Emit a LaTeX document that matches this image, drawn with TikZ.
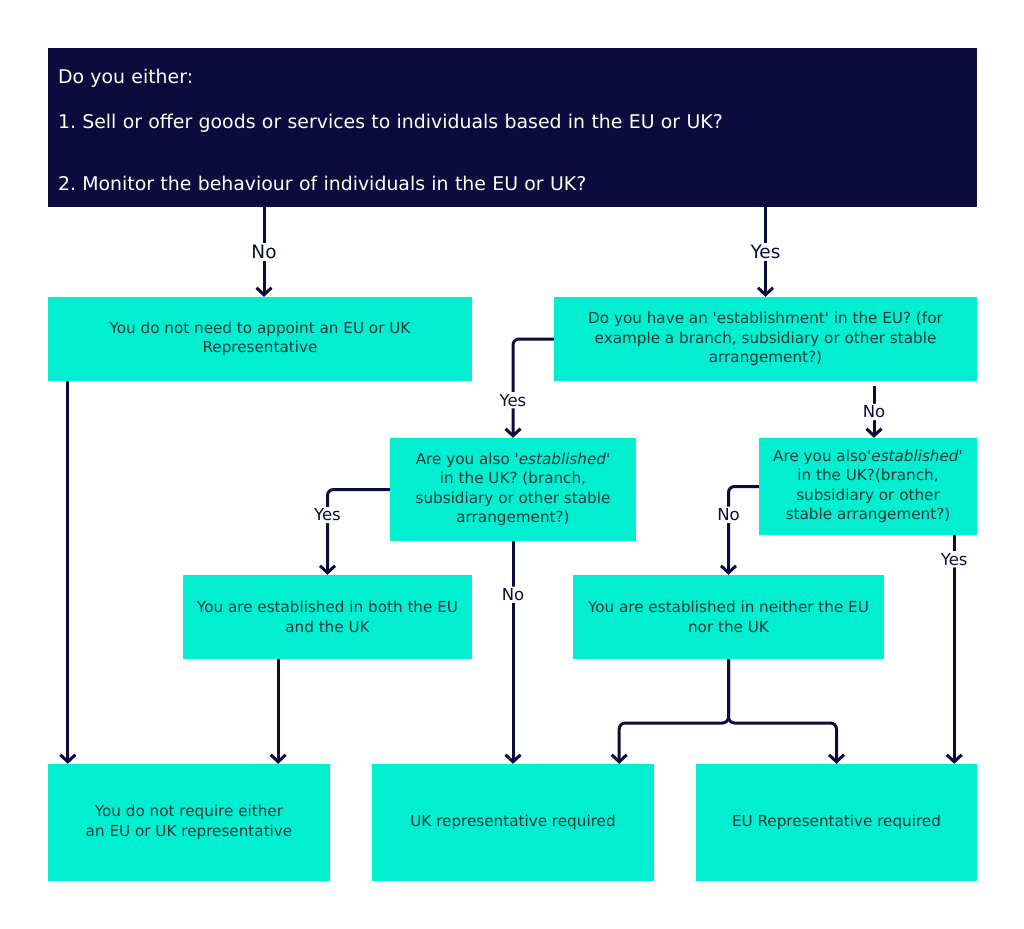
\documentclass[tikz,border=0pt]{standalone}
\usepackage{fontspec}
\setmainfont{DejaVu Sans}
\usetikzlibrary{arrows.meta}
\definecolor{navy}{HTML}{0B0C3D}
\definecolor{aqua}{HTML}{00EFD1}
\definecolor{boxtext}{HTML}{173A3E}
\newcommand{\sq}{\textquotesingle}
\frenchspacing
\begin{document}
\begin{tikzpicture}[x=1pt,y=-1pt,
  topbox/.style={fill=navy, text=white, align=left, text width=909pt, inner sep=0pt,
    font=\fontsize{18.9}{21}\selectfont},
  box/.style={fill=aqua, text=boxtext, align=center, inner sep=0pt,
    font=\fontsize{15.2}{19.5}\selectfont},
  conn/.style={draw=navy, line width=3pt, rounded corners=6pt,
    -{Straight Barb[length=7pt,width=15pt]}},
  lab/.style={fill=white, text=navy, inner sep=2pt, font=\fontsize{16.5}{18}\selectfont},
  biglab/.style={lab, font=\fontsize{18.5}{20}\selectfont}]
\useasboundingbox[fill=white] (0,0) rectangle (1024,928);

\node[topbox, minimum width=929pt, minimum height=159pt] (q0) at (512.5,127.5)
  {\rule{0pt}{20pt}Do you either:\\[24pt]
   1. Sell or offer goods or services to individuals based in the EU or UK?\\[41pt]
   2. Monitor the behaviour of individuals in the EU or UK?};

\node[box, minimum width=424pt, minimum height=84pt] (nope) at (260,339)
  {You do not need to appoint an EU or UK\\Representative};
\node[box, minimum width=423pt, minimum height=84pt] (qeu) at (765.5,339)
  {Do you have an \sq establishment\sq{} in the EU? (for\\example a branch, subsidiary or other stable\\arrangement?)};
\node[box, minimum width=246pt, minimum height=103pt] (quk1) at (513,489.5)
  {Are you also \textit{\sq established\sq}\\in the UK? (branch,\\subsidiary or other stable\\arrangement?)};
\node[box, minimum width=218pt, minimum height=97pt] (quk2) at (868,486.5)
  {Are you also\textit{\sq established\sq}\\in the UK?(branch,\\subsidiary or other\\stable arrangement?)};
\node[box, minimum width=289pt, minimum height=84pt] (both) at (327.5,617)
  {You are established in both the EU\\and the UK};
\node[box, minimum width=311pt, minimum height=84pt] (neither) at (728.5,617)
  {You are established in neither the EU\\nor the UK};
\node[box, minimum width=282pt, minimum height=117pt] (r1) at (189,822.5)
  {You do not require either\\an EU or UK representative};
\node[box, minimum width=282pt, minimum height=117pt] (r2) at (513,822.5)
  {UK representative required};
\node[box, minimum width=281pt, minimum height=117pt] (r3) at (836.5,822.5)
  {EU Representative required};

\coordinate (split) at (728.5,723);

\draw[conn] ([xshift=4pt]q0.south -| nope.north) -- node[biglab]{No} ([xshift=4pt]nope.north);
\draw[conn] (q0.south -| qeu.north) -- node[biglab]{Yes} (qeu.north);
\draw[conn] ([xshift=20pt]nope.south west) -- ([xshift=20pt]r1.north west);
\draw[conn] (qeu.west) -| node[lab, pos=0.81]{Yes} (quk1.north);
\draw[conn] ([xshift=6pt,yshift=-5pt]qeu.south -| quk2.north) -- node[lab]{No} ([xshift=6pt]quk2.north);
\draw[conn] (quk1.west) -| node[lab, pos=0.65]{Yes} (both.north);
\draw[conn] (quk1.south) -- node[lab, pos=0.24]{No} (r2.north);
\draw[conn] (quk2.west) -| node[lab, pos=0.66]{No} (neither.north);
\draw[conn] ([xshift=-23pt]quk2.south east) -- node[lab, pos=0.105]{Yes} ([xshift=-23pt]r3.north east);
\draw[conn] ([xshift=-52pt]r1.north east |- both.south) -- ([xshift=-52pt]r1.north east);
\draw[conn] (neither.south) -- (split) -| ([xshift=-35pt]r2.north east);
\draw[conn] (neither.south) -- (split) -| (r3.north);
\end{tikzpicture}
\end{document}
